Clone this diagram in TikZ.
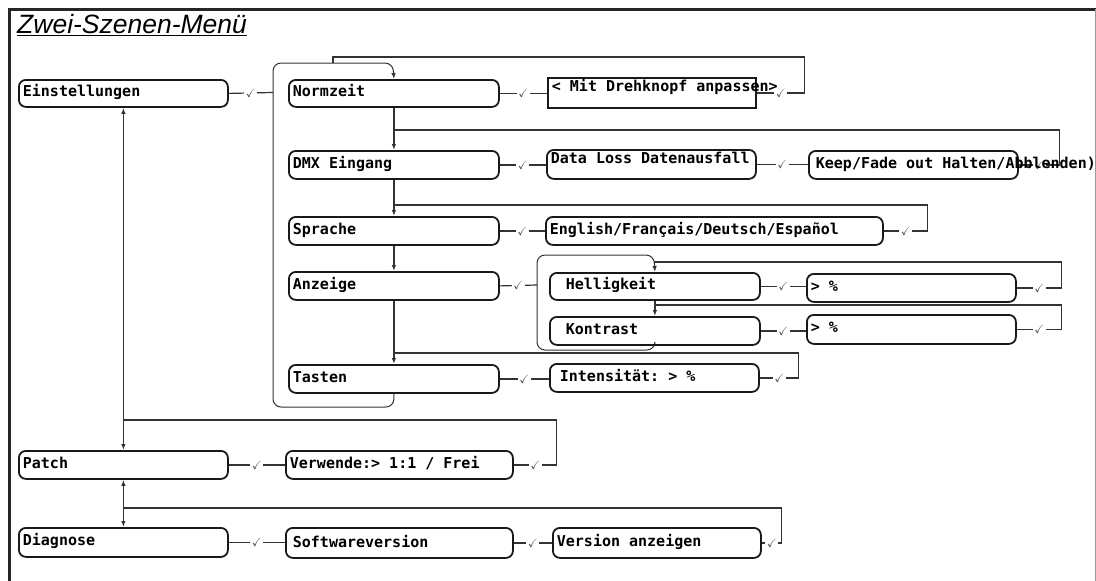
\documentclass[tikz,border=0pt]{standalone}
\usepackage{amssymb}
\usepackage{fontspec}
\newfontfamily\monofont{DejaVu Sans Mono}
\newfontfamily\titlefont{Liberation Sans}
\usetikzlibrary{arrows.meta,backgrounds}
\newcommand\boxfont{\monofont\bfseries\fontsize{15}{18}\selectfont}
% one full character cell of the mono font
\newcommand\gap{\hspace*{0.602em}}
\newcommand\ok{$\checkmark$}

\begin{document}
\begin{tikzpicture}[x=1pt,y=-1pt,
  menubox/.style={draw=black!90, line width=1.8pt, rounded corners=7pt,
    anchor=north west, inner xsep=4pt, inner ysep=0pt, align=left,
    text height=11pt, text depth=4pt, font=\boxfont},
  flow/.style={draw=black!80, line width=1.2pt},
  tip/.style={-{Latex[length=6pt,width=4.5pt]}},
  dtip/.style={{Latex[length=6pt,width=4.5pt]}-{Latex[length=6pt,width=4.5pt]}},
  chk/.style={fill=white, inner sep=1.5pt, text=black!65, font=\fontsize{12}{12}\selectfont},
  grp/.style={draw=black!80, line width=1pt, rounded corners=8pt},
]
\useasboundingbox (0,0) rectangle (1096,581);

% frame
\draw[line width=3pt, black!85] (8,9) -- (1096,9);
\draw[line width=3pt, black!85] (9,9) -- (9,581);
\draw[line width=1pt, black!40] (1095,9) -- (1095,581);

% title
\node[anchor=base west, inner sep=0pt,
      font=\titlefont\itshape\fontsize{26.5}{30}\selectfont] (ttl) at (17,33) {Zwei-Szenen-Menü};
\draw[line width=1.6pt] ([yshift=-2.5pt]ttl.base west) -- ([yshift=-2.5pt]ttl.base east);

% menu entries
\node[menubox, text width=201pt, minimum height=27pt] (ein) at (18,79) {Einstellungen};
\node[menubox, text width=202pt, minimum height=27pt] (norm) at (288,79) {Normzeit};
\node[menubox, text width=200pt, minimum height=30pt, rounded corners=0pt,
      text depth=13pt] (dreh) at (547,77) {\mbox{<\gap Mit\gap Drehknopf\gap anpassen>}};
\node[menubox, text width=202pt, minimum height=28pt] (dmx) at (288,150) {DMX\gap Eingang};
\node[menubox, text width=201pt, minimum height=29pt, text depth=12pt] (loss) at (546,149) {\mbox{Data\gap Loss\gap Datenausfall}};
\node[menubox, text width=201pt, minimum height=28pt] (keep) at (808,150) {\mbox{\hspace*{3pt}Keep/Fade\gap out\gap Halten/Abblenden)}};
\node[menubox, text width=202pt, minimum height=28pt] (spr) at (288,216) {Sprache};
\node[menubox, text width=329pt, minimum height=28pt] (lang) at (545,216) {English/Français/Deutsch/Español};
\node[menubox, text width=202pt, minimum height=28pt] (anz) at (288,271) {Anzeige};
\node[menubox, text width=202pt, minimum height=27pt] (hell) at (549,272) {\hspace*{12pt}Helligkeit};
\node[menubox, text width=201pt, minimum height=28pt] (hpct) at (806,273) {>\gap\%};
\node[menubox, text width=202pt, minimum height=28pt] (kon) at (549,316) {\hspace*{12pt}Kontrast};
\node[menubox, text width=201pt, minimum height=29pt] (kpct) at (806,314) {>\gap\%};
\node[menubox, text width=202pt, minimum height=28pt] (tas) at (288,364) {Tasten};
\node[menubox, text width=201pt, minimum height=28pt] (inten) at (549,363) {\hspace*{6pt}Intensität:\gap>\gap\%};
\node[menubox, text width=201pt, minimum height=28pt] (patch) at (18,450) {Patch};
\node[menubox, text width=219pt, minimum height=28pt] (verw) at (285,450) {Verwende:>\gap 1:1\gap/\gap Frei};
\node[menubox, text width=201pt, minimum height=29pt] (diag) at (18,527) {Diagnose};
\node[menubox, text width=219pt, minimum height=30pt, text depth=2pt] (soft) at (285,527) {\hspace*{3pt}Softwareversion};
\node[menubox, text width=200pt, minimum height=30pt] (vers) at (552,527) {Version\gap anzeigen};

% junction points
\coordinate (g1in) at (273,92.5);
\coordinate (g1top) at (333,63);
\coordinate (g2in) at (537,285);
\coordinate (j1) at (393,130);
\coordinate (j2) at (393,205);
\coordinate (j3) at (654,262);
\coordinate (j4) at (654,305);
\coordinate (j5) at (393,353);
\coordinate (j6) at (122.5,420);
\coordinate (j7) at (122.5,508);

\begin{pgfonlayer}{background}
% submenu groups
\draw[grp,tip] (tas.south) |- (273,407) |- (393,63) -- (norm.north);
\draw[grp,tip] (kon.south) |- (537,350) |- (654,255) -- (hell.north);

% main flow
\draw[flow,tip] (norm.south) -- (dmx.north);
\draw[flow,tip] (dmx.south) -- (spr.north);
\draw[flow,tip] (spr.south) -- (anz.north);
\draw[flow,tip] (anz.south) -- (tas.north);
\draw[flow,tip] (hell.south) -- (kon.north);
\draw[flow,dtip] (ein.south) -- (patch.north);
\draw[flow,dtip] (patch.south) -- (diag.north);

% confirmations and returns
\draw[flow] (ein.east) -- node[chk]{\ok} (g1in);
\draw[flow] (norm.east) -- node[chk]{\ok} (norm.east -| dreh.west);
\draw[flow] (dreh.east) -- node[chk]{\ok} ++(48,0) |- (333,57) -- (g1top);
\draw[flow] (dmx.east) -- node[chk]{\ok} (dmx.east -| loss.west);
\draw[flow] (loss.east) -- node[chk]{\ok} (loss.east -| keep.west);
\draw[flow] (keep.east) -- node[chk]{\ok} ++(41,0) |- (j1);
\draw[flow] (spr.east) -- node[chk]{\ok} (lang.west);
\draw[flow] (lang.east) -- node[chk]{\ok} ++(44,0) |- (j2);
\draw[flow] (anz.east) -- node[chk]{\ok} (g2in);
\draw[flow] (hell.east) -- node[chk]{\ok} (hell.east -| hpct.west);
\draw[flow] (hpct.east) -- node[chk]{\ok} ++(45,0) |- (j3);
\draw[flow] (kon.east) -- node[chk]{\ok} (kon.east -| kpct.west);
\draw[flow] (kpct.east) -- node[chk]{\ok} ++(45,0) |- (j4);
\draw[flow] (tas.east) -- node[chk]{\ok} (tas.east -| inten.west);
\draw[flow] (inten.east) -- node[chk]{\ok} ++(39,0) |- (j5);
\draw[flow] (patch.east) -- node[chk]{\ok} (verw.west);
\draw[flow] (verw.east) -- node[chk]{\ok} ++(43,0) |- (j6);
\draw[flow] (diag.east) -- node[chk]{\ok} (diag.east -| soft.west);
\draw[flow] (soft.east) -- node[chk]{\ok} (soft.east -| vers.west);
\draw[flow] (vers.east) -- node[chk]{\ok} ++(20,0) |- (j7);
\end{pgfonlayer}
\end{tikzpicture}
\end{document}
